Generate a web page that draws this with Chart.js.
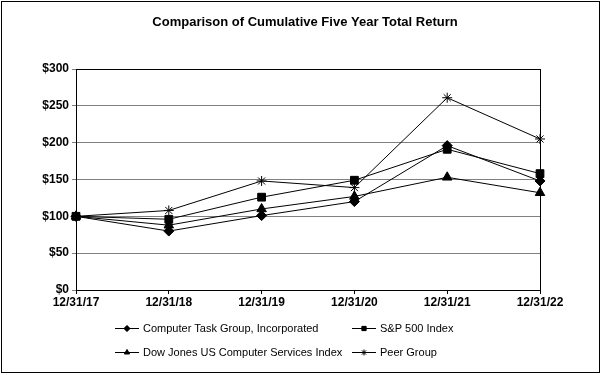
<!DOCTYPE html>
<html>
<head>
<meta charset="utf-8">
<script src="https://cdn.jsdelivr.net/npm/chart.js@4.4.0/dist/chart.umd.min.js"></script>
<style>
  html, body { margin: 0; padding: 0; background: #fff; }
  canvas { display: block; }
</style>
</head>
<body>
<canvas id="returnChart" width="602" height="375"></canvas>
<script>
// Dados
const years = ['12/31/17', '12/31/18', '12/31/19', '12/31/20', '12/31/21', '12/31/22'];
const ctgValues = [100, 80, 101, 120, 196, 148];
const spValues = [100, 96, 126, 149, 191, 158];
const djValues = [100, 88, 110, 127, 153, 132];
const peerValues = [100, 108, 148, 139, 261, 205];
const yTicks = [0, 50, 100, 150, 200, 250, 300];

const seriesNames = ['Computer Task Group, Incorporated', 'S&P 500 Index', 'Dow Jones US Computer Services Index', 'Peer Group'];
const markers = ['rectRot', 'rect', 'triangle', 'star'];

const FONT = '"Liberation Sans", Arial, sans-serif';

// Plugin: moldura, título e legenda
const framePlugin = {
    id: 'frame',
    beforeDraw(chart) {
        const c = chart.ctx;
        c.save();
        c.fillStyle = '#fff';
        c.fillRect(0, 0, chart.width, chart.height);
        c.restore();
    },
    afterDraw(chart) {
        const c = chart.ctx;
        const a = chart.chartArea;
        c.save();
        c.strokeStyle = '#000';
        c.lineWidth = 1;
        c.strokeRect(Math.round(a.left) + 0.5, Math.round(a.top) + 0.5, Math.round(a.right - a.left), Math.round(a.bottom - a.top));
        c.strokeRect(1.5, 1.5, chart.width - 4, chart.height - 4);

        // título
        c.fillStyle = '#000';
        c.font = 'bold 13px ' + FONT;
        c.textAlign = 'center';
        c.textBaseline = 'middle';
        c.fillText('Comparison of Cumulative Five Year Total Return', 305, 22);

        // legenda
        const pos = [[115, 328], [352, 328], [115, 352], [352, 352]];
        c.font = '11px ' + FONT;
        c.textAlign = 'left';
        seriesNames.forEach((name, i) => {
            const [x, y] = pos[i];
            c.beginPath();
            c.moveTo(x, y + 0.5);
            c.lineTo(x + 24, y + 0.5);
            c.stroke();
            Chart.helpers.drawPoint(c, { pointStyle: markers[i], radius: 3, borderWidth: 1 }, x + 12, y + 0.5);
            c.fill();
            c.fillText(name, x + 28, y + 1);
        });
        c.restore();
    }
};

function makeDataset(label, data, style, radius) {
    return {
        label: label,
        data: data,
        borderColor: '#000',
        backgroundColor: '#000',
        borderWidth: 1,
        pointStyle: style,
        pointRadius: radius,
        pointBorderWidth: 1,
        pointBorderColor: '#000',
        pointBackgroundColor: '#000',
        tension: 0
    };
}

new Chart(document.getElementById('returnChart'), {
    type: 'line',
    data: {
        labels: years,
        datasets: [
            makeDataset(seriesNames[0], ctgValues, markers[0], 5),
            makeDataset(seriesNames[1], spValues, markers[1], 5.5),
            makeDataset(seriesNames[2], djValues, markers[2], 5.5),
            makeDataset(seriesNames[3], peerValues, markers[3], 5)
        ]
    },
    options: {
        responsive: false,
        animation: false,
        layout: { padding: { left: 0, right: 62, top: 69, bottom: 65 } },
        plugins: {
            legend: { display: false },
            title: { display: false },
            tooltip: { enabled: false }
        },
        scales: {
            x: {
                offset: false,
                grid: { drawOnChartArea: false, drawTicks: true, tickLength: 4, color: '#000' },
                border: { color: '#000' },
                ticks: { color: '#000', font: { family: FONT, size: 12, weight: 'bold' }, padding: 1, maxRotation: 0, autoSkip: false },
                afterFit(scale) { scale.height = 20; }
            },
            y: {
                min: 0,
                max: 300,
                afterBuildTicks(scale) { scale.ticks = yTicks.map(v => ({ value: v })); },
                grid: { color: '#808080', drawTicks: true, tickLength: 4 },
                border: { color: '#000' },
                ticks: {
                    color: '#000',
                    font: { family: FONT, size: 12, weight: 'bold' },
                    padding: 3,
                    callback: v => '$' + v
                },
                afterFit(scale) { scale.width = 76; }
            }
        }
    },
    plugins: [framePlugin]
});
</script>
</body>
</html>
